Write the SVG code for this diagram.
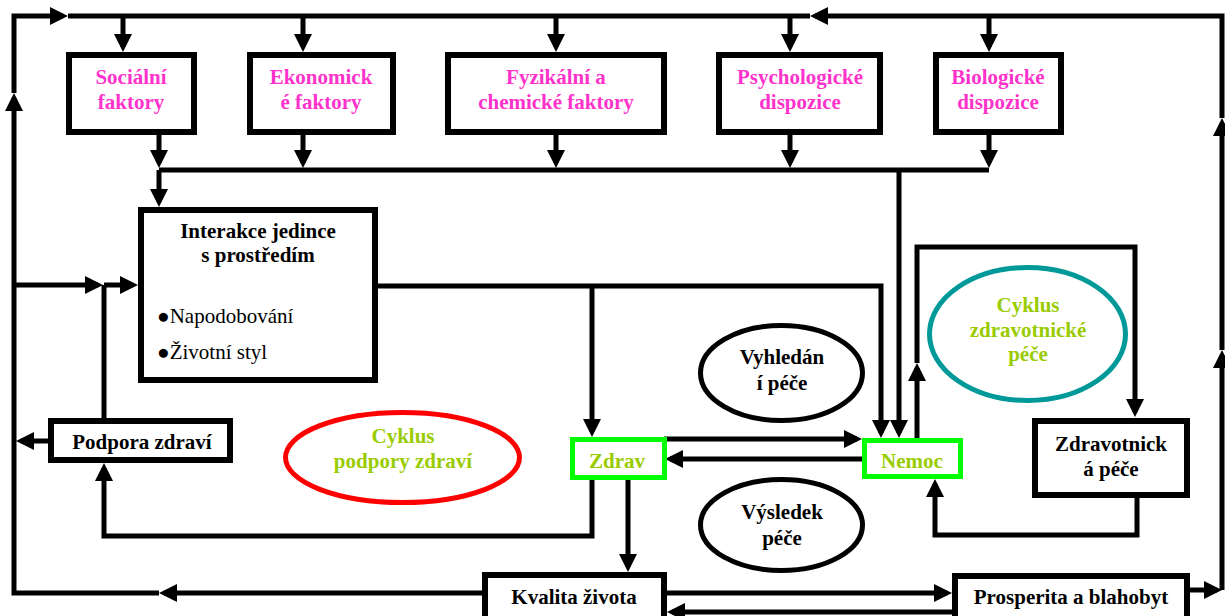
<svg xmlns="http://www.w3.org/2000/svg" width="1225" height="616" viewBox="0 0 1225 616" font-family="Liberation Serif" font-size="21" font-weight="bold">
<defs>
<marker id="ah" viewBox="0 0 18 18" refX="13" refY="9" markerWidth="18" markerHeight="18" markerUnits="userSpaceOnUse" orient="auto"><path d="M0,0 L18,9 L0,18 z" fill="#000"/></marker>
<style>
.box{fill:#fff;stroke:#000;stroke-width:6}
.gbox{fill:#fff;stroke:#00ff00;stroke-width:5}
.ell{fill:#fff;stroke:#000;stroke-width:5}
.c{fill:none;stroke:#000;stroke-width:5}
.a{fill:none;stroke:#000;stroke-width:5;marker-end:url(#ah)}
.pk{fill:#ff33cc}
.yg{fill:#99cc00}
.bk{fill:#000}
</style>
</defs>
<rect width="1225" height="616" fill="#fff"/>
<g id="connectors">
<path class="a" d="M482,593 H164"/>
<path class="a" d="M159,593 H14 V98"/>
<path class="a" d="M14,93 V16 H63"/>
<path class="c" d="M68,16 H810"/>
<path class="a" d="M1190,590 H1217"/>
<path class="a" d="M1222,590 V355"/>
<path class="a" d="M1222,350 V123"/>
<path class="a" d="M1222,118 V16 H815"/>
<path class="a" d="M123,16 V47"/>
<path class="a" d="M303,16 V47"/>
<path class="a" d="M556,16 V47"/>
<path class="a" d="M790,16 V47"/>
<path class="a" d="M989,16 V47"/>
<path class="a" d="M159,135 V163"/>
<path class="a" d="M303,135 V163"/>
<path class="a" d="M556,135 V163"/>
<path class="a" d="M790,135 V163"/>
<path class="a" d="M989,135 V163"/>
<path class="c" d="M159,170 H989"/>
<path class="a" d="M159,170 V202"/>
<path class="a" d="M899,170 V433"/>
<path class="a" d="M378,286 H881 V433"/>
<path class="a" d="M592,286 V432"/>
<path class="a" d="M14,285 H98"/>
<path class="a" d="M104,285 H133"/>
<path class="c" d="M104,285 V420"/>
<path class="a" d="M48,441 H21"/>
<path class="a" d="M592,478 V536 H104 V468"/>
<path class="a" d="M664,439 H857"/>
<path class="a" d="M862,459 H670"/>
<path class="a" d="M628,478 V567"/>
<path class="a" d="M667,593 H947"/>
<path class="a" d="M955,612 H672"/>
<path class="a" d="M917,438 V368"/>
<path class="a" d="M917,363 V247 H1135 V412"/>
<path class="a" d="M1137,497 V535 H935 V484"/>
</g>
<g text-anchor="middle">
<g id="socialni"><rect class="box" x="69" y="55" width="125" height="77"/><text class="pk" x="131" y="84">Sociální</text><text class="pk" x="131" y="109">faktory</text></g>
<g id="ekonomicke"><rect class="box" x="250" y="55" width="143" height="77"/><text class="pk" x="321" y="84">Ekonomick</text><text class="pk" x="321" y="109">é faktory</text></g>
<g id="fyzikalni"><rect class="box" x="448" y="55" width="216" height="77"/><text class="pk" x="556" y="84">Fyzikální a</text><text class="pk" x="556" y="109">chemické faktory</text></g>
<g id="psychologicke"><rect class="box" x="719" y="55" width="161" height="77"/><text class="pk" x="800" y="84">Psychologické</text><text class="pk" x="800" y="109">dispozice</text></g>
<g id="biologicke"><rect class="box" x="936" y="55" width="125" height="77"/><text class="pk" x="998" y="84">Biologické</text><text class="pk" x="998" y="109">dispozice</text></g>
<g id="interakce"><rect class="box" x="141" y="210" width="234" height="170"/><text class="bk" x="258" y="238">Interakce jedince</text><text class="bk" x="258" y="262">s prostředím</text><text class="bk" x="157" y="323" text-anchor="start" font-weight="normal">●Napodobování</text><text class="bk" x="157" y="359" text-anchor="start" font-weight="normal">●Životní styl</text></g>
<g id="podpora"><rect class="box" x="51" y="421" width="179" height="39"/><text class="bk" x="142" y="449">Podpora zdraví</text></g>
<g id="cyklus-podpory"><ellipse cx="402.5" cy="457.5" rx="117" ry="45" fill="#fff" stroke="#ff0000" stroke-width="5"/><text class="yg" x="403" y="443">Cyklus</text><text class="yg" x="403" y="468">podpory zdraví</text></g>
<g id="zdrav"><rect class="gbox" x="572.5" y="439.5" width="92" height="38"/><text class="yg" x="617" y="468">Zdrav</text></g>
<g id="nemoc"><rect class="gbox" x="864.5" y="440.5" width="96" height="36"/><text class="yg" x="912" y="468">Nemoc</text></g>
<g id="vyhledani"><ellipse class="ell" cx="781.5" cy="373" rx="81" ry="47.5"/><text class="bk" x="782" y="364">Vyhledán</text><text class="bk" x="782" y="390">í péče</text></g>
<g id="vysledek"><ellipse class="ell" cx="781.5" cy="525" rx="81" ry="45.5"/><text class="bk" x="782" y="519">Výsledek</text><text class="bk" x="782" y="545">péče</text></g>
<g id="cyklus-zdravotnicke"><ellipse cx="1027.5" cy="334" rx="98" ry="66.5" fill="#fff" stroke="#009999" stroke-width="5"/><text class="yg" x="1028" y="312">Cyklus</text><text class="yg" x="1028" y="337">zdravotnické</text><text class="yg" x="1028" y="361">péče</text></g>
<g id="zdravotnicka"><rect class="box" x="1035" y="421" width="152" height="74"/><text class="bk" x="1111" y="451">Zdravotnick</text><text class="bk" x="1111" y="476">á péče</text></g>
<g id="kvalita"><rect class="box" x="485" y="575" width="179" height="60"/><text class="bk" x="574" y="604">Kvalita života</text></g>
<g id="prosperita"><rect class="box" x="955" y="576" width="232" height="60"/><text class="bk" x="1071" y="604">Prosperita a blahobyt</text></g>
</g>
</svg>
